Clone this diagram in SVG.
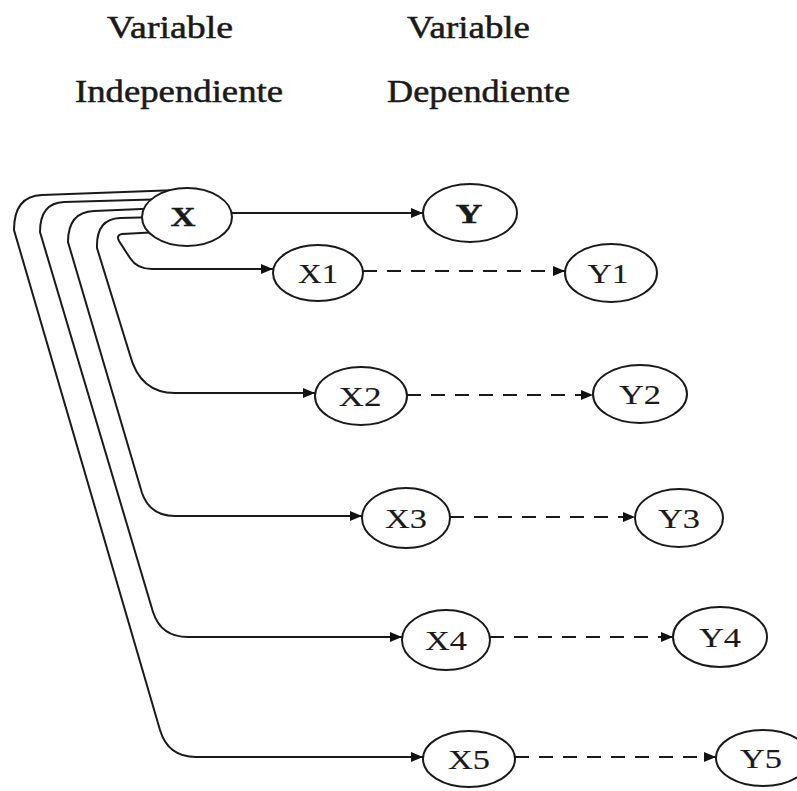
<svg xmlns="http://www.w3.org/2000/svg" width="797" height="791" viewBox="0 0 797 791">
<defs>
<marker id="ah" markerUnits="userSpaceOnUse" markerWidth="14" markerHeight="12" refX="12" refY="6" orient="auto">
<path d="M0,1 L12,6 L0,11 z" fill="#111"/>
</marker>
<style>
.t{font-family:"Liberation Serif","Times New Roman",serif;fill:#1a1a1a;stroke:#1a1a1a;stroke-width:0.5}
.h{font-size:31px}
.n{font-size:28px;text-anchor:middle;stroke-width:0.15}
.b{font-weight:bold;stroke-width:0.4}
.e{fill:#fff;stroke:#1a1a1a;stroke-width:2}
.c{fill:none;stroke:#1a1a1a;stroke-width:2}
.s{marker-end:url(#ah)}
.d{stroke-dasharray:14 10}
</style>
</defs>
<rect width="797" height="791" fill="#fff"/>
<g id="headings">
<text class="t h" x="107" y="38" textLength="126" lengthAdjust="spacingAndGlyphs">Variable</text>
<text class="t h" x="75" y="102" textLength="208" lengthAdjust="spacingAndGlyphs">Independiente</text>
<text class="t h" x="407" y="38" textLength="123" lengthAdjust="spacingAndGlyphs">Variable</text>
<text class="t h" x="387" y="102" textLength="183" lengthAdjust="spacingAndGlyphs">Dependiente</text>
</g>
<g id="connectors">
<path class="c s" d="M178,190 L42,195 Q14,196 14,230 L160,730 Q168,757 196,757 L423,757"/>
<path class="c s" d="M170,199 L64,202 Q40,203 40,232 L153,612 Q161,637 188,637 L402,637"/>
<path class="c s" d="M165,208 L94,211 Q68,212 68,242 L142,493 Q150,516 175,516 L362,516"/>
<path class="c s" d="M160,217 L120,218 Q96,219 97,248 L130,355 Q140,393 175,393 L315,393"/>
<path class="c s" d="M160,232 L122,234 Q116,235 119,241 L130,258 Q137,269 152,269 L273,269"/>
<path class="c s" d="M232,213 L423,213"/>
<path class="c d s" d="M363,271 L565,271"/>
<path class="c d s" d="M407,395 L593,395"/>
<path class="c d s" d="M450,517 L635,517"/>
<path class="c d s" d="M490,637 L673,637"/>
<path class="c d s" d="M515,757 L716,757"/>
</g>
<g id="X"><ellipse class="e" cx="187" cy="217" rx="45" ry="29"/><text class="t n b" x="183" y="226" textLength="25" lengthAdjust="spacingAndGlyphs">X</text></g>
<g id="Y"><ellipse class="e" cx="470" cy="213" rx="47" ry="29"/><text class="t n b" x="469" y="223" textLength="27" lengthAdjust="spacingAndGlyphs">Y</text></g>
<g id="X1"><ellipse class="e" cx="318" cy="273" rx="45" ry="28"/><text class="t n" x="318" y="283" textLength="40" lengthAdjust="spacingAndGlyphs">X1</text></g>
<g id="Y1"><ellipse class="e" cx="611" cy="273" rx="46" ry="29"/><text class="t n" x="608" y="283" textLength="41" lengthAdjust="spacingAndGlyphs">Y1</text></g>
<g id="X2"><ellipse class="e" cx="361" cy="396" rx="46" ry="29"/><text class="t n" x="360" y="406" textLength="43" lengthAdjust="spacingAndGlyphs">X2</text></g>
<g id="Y2"><ellipse class="e" cx="640" cy="394" rx="47" ry="29"/><text class="t n" x="640" y="404" textLength="42" lengthAdjust="spacingAndGlyphs">Y2</text></g>
<g id="X3"><ellipse class="e" cx="406" cy="518" rx="44" ry="30"/><text class="t n" x="406" y="528" textLength="42" lengthAdjust="spacingAndGlyphs">X3</text></g>
<g id="Y3"><ellipse class="e" cx="679" cy="518" rx="44" ry="29"/><text class="t n" x="679" y="528" textLength="42" lengthAdjust="spacingAndGlyphs">Y3</text></g>
<g id="X4"><ellipse class="e" cx="446" cy="640" rx="44" ry="30"/><text class="t n" x="446" y="650" textLength="42" lengthAdjust="spacingAndGlyphs">X4</text></g>
<g id="Y4"><ellipse class="e" cx="720" cy="637" rx="47" ry="30"/><text class="t n" x="720" y="647" textLength="42" lengthAdjust="spacingAndGlyphs">Y4</text></g>
<g id="X5"><ellipse class="e" cx="469" cy="759" rx="46" ry="28"/><text class="t n" x="469" y="769" textLength="42" lengthAdjust="spacingAndGlyphs">X5</text></g>
<g id="Y5"><ellipse class="e" cx="763" cy="758" rx="47" ry="28"/><text class="t n" x="761" y="768" textLength="42" lengthAdjust="spacingAndGlyphs">Y5</text></g>
</svg>
